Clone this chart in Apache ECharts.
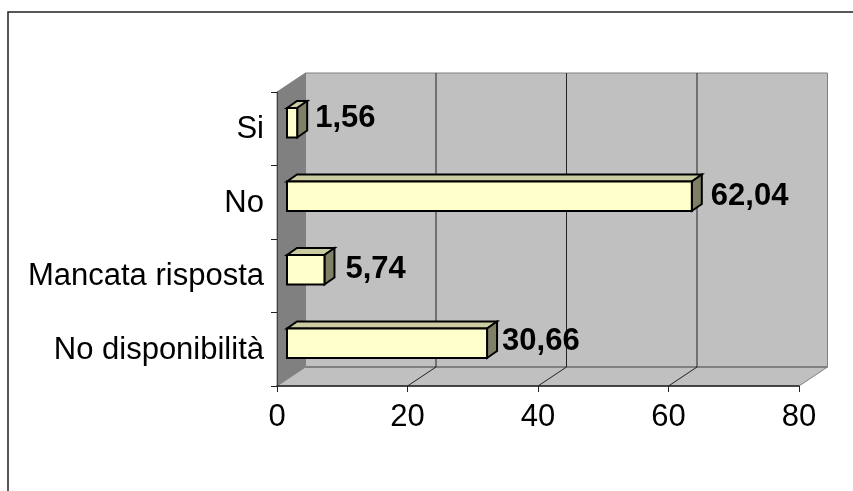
<!DOCTYPE html>
<html><head><meta charset="utf-8">
<style>html,body{margin:0;padding:0;background:#fff}#c{width:853px;height:491px}</style>
<script src="https://cdn.jsdelivr.net/npm/echarts@6/dist/echarts.min.js"></script>
</head><body><div id="c"></div>
<script>
const categories = ['No disponibilità', 'Mancata risposta', 'No', 'Si'];
const values = [30.66, 5.74, 62.04, 1.56];
const valueLabels = ['30,66', '5,74', '62,04', '1,56'];
const xTicks = [0, 20, 40, 60, 80];
const labelShiftX = [-4, 2, 0, -1];
const labelShiftY = [4, 6, 6, 2];

const WALL_DX = 28.5, WALL_DY = -19, BAR_DX = 10, BAR_DY = -7;
const FONT = '"Liberation Sans", Arial, sans-serif';

const chart = echarts.init(document.getElementById('c'));

function text(x, y, str, size, weight, align) {
  return { type: 'text', x, y, silent: true,
    style: { text: str, x: 0, y: 0, fill: '#000', align, verticalAlign: 'middle',
             font: `${weight} ${size}px ${FONT}` } };
}

function renderFrame(params, api) {
  const c = params.coordSys, l = c.x, r = c.x + c.width, t = c.y, b = c.y + c.height;
  const gray = '#808080';
  const kids = [
    { type: 'polygon', shape: { points: [[l + WALL_DX, t + WALL_DY], [r + WALL_DX, t + WALL_DY], [r + WALL_DX, b + WALL_DY], [l + WALL_DX, b + WALL_DY]] },
      style: { fill: '#C0C0C0', stroke: gray, lineWidth: 1 } },
    { type: 'polygon', shape: { points: [[l, t], [l + WALL_DX, t + WALL_DY], [l + WALL_DX, b + WALL_DY], [l, b]] },
      style: { fill: gray, stroke: gray, lineWidth: 1 } },
    { type: 'polygon', shape: { points: [[l, b], [l + WALL_DX, b + WALL_DY], [r + WALL_DX, b + WALL_DY], [r, b]] },
      style: { fill: '#C0C0C0', stroke: gray, lineWidth: 1 } },
    { type: 'line', shape: { x1: l + WALL_DX, y1: b + WALL_DY, x2: r + WALL_DX, y2: b + WALL_DY },
      style: { stroke: gray, lineWidth: 2 } }
  ];
  xTicks.forEach(v => {
    const x = api.coord([v, 0])[0];
    if (v === 0 || v === xTicks[xTicks.length - 1]) return;
    kids.push({ type: 'line', shape: { x1: x + WALL_DX, y1: t + WALL_DY, x2: x + WALL_DX, y2: b + WALL_DY },
      style: { stroke: '#222', lineWidth: 1 } });
    kids.push({ type: 'line', shape: { x1: x, y1: b, x2: x + WALL_DX, y2: b + WALL_DY },
      style: { stroke: '#222', lineWidth: 1 } });
  });
  return { type: 'group', children: kids };
}

function renderBar(params, api) {
  const v = api.value(0), i = api.value(1), n = params.dataIndex;
  const start = api.coord([0, i]), end = api.coord([v, i]);
  const band = api.size([0, 1])[1], h = band / 2.5;
  const x0 = start[0] + BAR_DX, x1 = end[0] + BAR_DX;
  const y0 = start[1] + BAR_DY + 1 - h / 2, y1 = y0 + h;
  const line = { stroke: '#000', lineWidth: 2, lineJoin: 'miter' };
  return { type: 'group', children: [
    { type: 'polygon', shape: { points: [[x0, y0], [x0 + BAR_DX, y0 + BAR_DY], [x1 + BAR_DX, y0 + BAR_DY], [x1, y0]] },
      style: Object.assign({ fill: '#CCCCA3' }, line) },
    { type: 'polygon', shape: { points: [[x1, y0], [x1 + BAR_DX, y0 + BAR_DY], [x1 + BAR_DX, y1 + BAR_DY], [x1, y1]] },
      style: Object.assign({ fill: '#808066' }, line) },
    { type: 'rect', shape: { x: x0, y: y0, width: x1 - x0, height: h },
      style: Object.assign({ fill: '#FFFFCC' }, line) },
    text(x1 + BAR_DX + 9 + labelShiftX[n], start[1] - 12 + labelShiftY[n], valueLabels[n], 31, 'bold', 'left')
  ] };
}

function renderCategoryLabel(params, api) {
  const p = api.coord([0, api.value(1)]);
  return text(p[0] - 13, p[1] + 1, categories[params.dataIndex], 31, 'normal', 'right');
}

function renderTickLabel(params, api) {
  const p = api.coord([api.value(0), 0]);
  return text(p[0], params.coordSys.y + params.coordSys.height + 31, String(api.value(0)), 31, 'normal', 'center');
}

const custom = (renderItem, data, z) => ({ type: 'custom', renderItem, data, z, clip: false, silent: true,
  encode: { x: 0, y: 1 }, animation: false });

chart.setOption({
  animation: false,
  backgroundColor: '#fff',
  graphic: [{ type: 'rect', z: -1, shape: { x: 8, y: 12, width: 900, height: 600 },
    style: { fill: 'none', stroke: '#222', lineWidth: 1.5 } }],
  grid: { left: 277, right: 54, top: 92, bottom: 105 },
  xAxis: { type: 'value', min: 0, max: 80, interval: 20, z: 10,
    splitLine: { show: false }, axisLabel: { show: false },
    axisLine: { show: true, lineStyle: { color: '#222', width: 1.5 } },
    axisTick: { show: true, length: 6, lineStyle: { color: '#222', width: 1 } } },
  yAxis: { type: 'category', data: categories, z: 10,
    axisLabel: { show: false }, splitLine: { show: false },
    axisLine: { show: true, lineStyle: { color: '#444', width: 1 } },
    axisTick: { show: true, length: 6, lineStyle: { color: '#222', width: 1 } } },
  series: [
    custom(renderFrame, [[0, 0]], 1),
    custom(renderBar, values.map((v, i) => [v, i]), 2),
    custom(renderCategoryLabel, categories.map((c, i) => [0, i]), 3),
    custom(renderTickLabel, xTicks.map(v => [v, 0]), 3)
  ]
});
</script></body></html>
